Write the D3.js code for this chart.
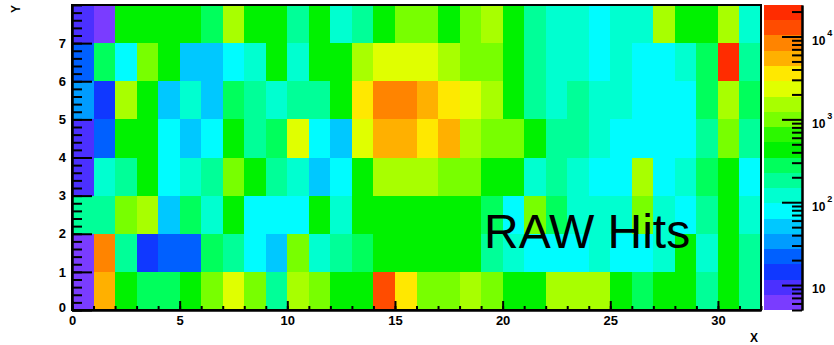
<!DOCTYPE html>
<html>
<head>
<meta charset="utf-8">
<script src="https://cdn.jsdelivr.net/npm/d3@7"></script>
<style>
  html, body { margin: 0; padding: 0; background: #fff; }
  svg { display: block; font-family: "Liberation Sans", Arial, Helvetica, sans-serif; }
</style>
</head>
<body>
<script>
// binning and axis labels
const nBinsX = 32;
const nBinsY = 8;
const xTicks = [0, 5, 10, 15, 20, 25, 30];
const yTicks = [0, 1, 2, 3, 4, 5, 6, 7];
const zTicks = [10, 100, 1000, 10000];
const zRange = [5, 24000];
const nContours = 20;
const xTitle = "X";
const yTitle = "Y";
const label = "RAW Hits";

// root "pretty" palette, 20 contour levels, violet -> red
const palette = [
  "#7a3cff", "#4b30ff", "#1038ff", "#0060ff", "#009cff",
  "#00c8ff", "#00fcff", "#00ffd0", "#00ff98", "#00ff5c",
  "#00f200", "#2cf800", "#78ff00", "#a8ff00", "#e0ff00",
  "#ffe800", "#ffb000", "#ff8400", "#ff4c00", "#ff2c00"
];

// hits[y][x], y = 0 is the bottom row
const hits = [
  [6, 5300, 410, 270, 285, 445, 960, 2250, 1010, 176, 1480, 935, 430, 460, 12400, 3600, 1040, 985, 1560, 1020, 452, 418, 1510, 1440, 1590, 440, 262, 401, 455, 185, 470, 172],
  [7, 8100, 190, 13, 20, 19, 262, 175, 81, 46, 1080, 124, 168, 290, 470, 505, 488, 512, 430, 180, 118, 76, 72, 79, 112, 74, 83, 126, 395, 130, 420, 198],
  [165, 172, 905, 1390, 52, 252, 128, 415, 86, 90, 84, 398, 121, 462, 497, 515, 478, 503, 466, 248, 88, 870, 240, 110, 104, 115, 850, 122, 80, 158, 430, 113],
  [9, 132, 160, 444, 88, 126, 168, 870, 402, 181, 119, 54, 79, 470, 1620, 1710, 1580, 1050, 980, 455, 430, 111, 162, 119, 85, 82, 1310, 90, 124, 235, 472, 77],
  [8, 21, 380, 405, 84, 49, 88, 420, 150, 255, 1960, 86, 45, 2050, 4900, 5100, 4100, 4700, 1300, 1150, 880, 380, 170, 175, 130, 85, 92, 88, 91, 163, 830, 154],
  [30, 15, 1650, 450, 55, 138, 51, 305, 180, 128, 190, 172, 481, 3200, 7800, 8400, 5900, 3350, 2400, 1450, 410, 196, 122, 178, 119, 131, 74, 71, 78, 266, 1700, 286],
  [22, 275, 82, 1020, 470, 43, 48, 87, 109, 412, 125, 436, 502, 1390, 2310, 2530, 2440, 1290, 940, 860, 425, 186, 104, 118, 70, 132, 86, 79, 115, 240, 19200, 152],
  [10, 6, 488, 455, 472, 436, 300, 1480, 441, 469, 201, 495, 133, 170, 458, 1070, 940, 462, 1005, 1560, 470, 155, 120, 101, 76, 142, 108, 1420, 473, 445, 1640, 127]
];

const width = 834, height = 345;
const frame = { left: 72, right: 761, top: 5, bottom: 310 };
const bar = { left: 764, right: 802 };

const svg = d3.select("body").append("svg")
  .attr("width", width)
  .attr("height", height);

const x = d3.scaleLinear().domain([0, nBinsX]).range([frame.left, frame.right]);
const y = d3.scaleLinear().domain([0, nBinsY]).range([frame.bottom, frame.top]);
const z = d3.scaleLog().domain(zRange).range([frame.bottom, frame.top]);
const level = d3.scaleLog().domain(zRange).range([0, nContours]).clamp(true);
const colorOf = (v) => palette[Math.min(nContours - 1, Math.floor(level(v)))];

// cells
const cells = hits.flatMap((row, j) => row.map((v, i) => ({ i, j, v })));
svg.append("g")
  .attr("shape-rendering", "crispEdges")
  .selectAll("rect")
  .data(cells)
  .join("rect")
  .attr("x", (d) => Math.round(x(d.i)))
  .attr("y", (d) => Math.round(y(d.j + 1)))
  .attr("width", (d) => Math.round(x(d.i + 1)) - Math.round(x(d.i)))
  .attr("height", (d) => Math.round(y(d.j)) - Math.round(y(d.j + 1)))
  .attr("fill", (d) => colorOf(d.v));

// palette bar
const levels = d3.range(nContours + 1).map((k) => level.invert(k));
svg.append("g")
  .attr("shape-rendering", "crispEdges")
  .selectAll("rect")
  .data(d3.range(nContours))
  .join("rect")
  .attr("x", bar.left)
  .attr("width", bar.right - bar.left)
  .attr("y", (k) => Math.round(z(levels[k + 1])))
  .attr("height", (k) => Math.round(z(levels[k])) - Math.round(z(levels[k + 1])))
  .attr("fill", (k) => palette[k]);

const styleAxis = (g, size) => {
  g.attr("font-family", null).attr("font-size", null);
  g.selectAll("line").attr("stroke", "#000").attr("stroke-width", 2);
  g.selectAll(".domain").attr("stroke", "#000").attr("stroke-width", 2);
  g.selectAll("text")
    .attr("fill", "#000")
    .style("font-size", size + "px")
    .style("font-weight", "bold");
};

// frame
svg.append("rect")
  .attr("x", frame.left)
  .attr("y", frame.top)
  .attr("width", frame.right - frame.left)
  .attr("height", frame.bottom - frame.top)
  .attr("fill", "none")
  .attr("stroke", "#000")
  .attr("stroke-width", 2);

// x axis
svg.append("g")
  .attr("transform", `translate(0,${frame.bottom})`)
  .call(d3.axisBottom(x).tickValues(d3.range(0, nBinsX + 1)).tickSize(-4).tickSizeOuter(0).tickFormat(""))
  .call((g) => styleAxis(g, 13));
svg.append("g")
  .attr("transform", `translate(0,${frame.bottom})`)
  .call(d3.axisBottom(x).tickValues(xTicks).tickSize(-9).tickSizeOuter(0).tickPadding(6))
  .call((g) => styleAxis(g, 13));

// y axis
svg.append("g")
  .attr("transform", `translate(${frame.left},0)`)
  .call(d3.axisLeft(y).tickValues(d3.range(0, nBinsY + 0.01, 0.2)).tickSize(-10).tickSizeOuter(0).tickFormat(""))
  .call((g) => styleAxis(g, 13));
svg.append("g")
  .attr("transform", `translate(${frame.left},0)`)
  .call(d3.axisLeft(y).tickValues(yTicks).tickSize(-20).tickSizeOuter(0).tickPadding(6))
  .call((g) => styleAxis(g, 13))
  .call((g) => g.selectAll(".tick text").filter((d) => d === 0).attr("y", -3));

// palette axis
const zMinor = z.ticks().filter((t) => !zTicks.includes(t));
svg.append("g")
  .attr("transform", `translate(${bar.right},0)`)
  .call(d3.axisRight(z).tickValues(zMinor).tickSize(-10).tickSizeOuter(0).tickFormat(""))
  .call((g) => styleAxis(g, 12));
svg.append("g")
  .attr("transform", `translate(${bar.right},0)`)
  .call(d3.axisRight(z).tickValues(zTicks).tickSize(-20).tickSizeOuter(0).tickPadding(10))
  .call((g) => styleAxis(g, 12))
  .call((g) =>
    g.selectAll(".tick text").each(function (d) {
      const e = Math.round(Math.log10(d));
      const t = d3.select(this).attr("dy", "0.65em").text("10");
      if (e > 1) {
        t.append("tspan").attr("dx", 2).attr("dy", -9).style("font-size", "9px").text(e);
      }
    })
  );

// axis titles
svg.append("text")
  .attr("x", frame.right - 3)
  .attr("y", 342)
  .attr("text-anchor", "end")
  .style("font-size", "12px")
  .style("font-weight", "bold")
  .text(xTitle);
svg.append("text")
  .attr("transform", `translate(20,${frame.top}) rotate(-90)`)
  .attr("text-anchor", "end")
  .style("font-size", "12px")
  .style("font-weight", "bold")
  .text(yTitle);

// label
svg.append("text")
  .attr("x", 484)
  .attr("y", 248)
  .style("font-size", "48px")
  .text(label);
</script>
</body>
</html>
